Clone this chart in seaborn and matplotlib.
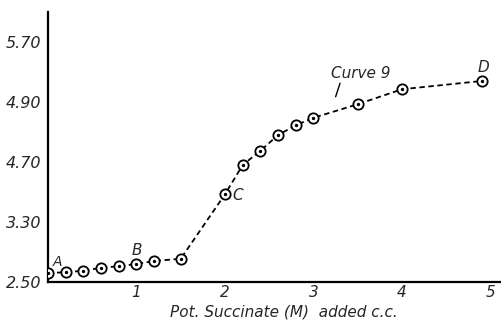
import matplotlib
matplotlib.use("Agg")
import matplotlib.pyplot as plt
import seaborn as sns
import pandas as pd

# Data
succinate_cc = [0.0, 0.2, 0.4, 0.6, 0.8, 1.0, 1.2, 1.5, 2.0, 2.2, 2.4, 2.6, 2.8, 3.0, 3.5, 4.0, 4.9]
ph_values = [2.62, 2.63, 2.65, 2.69, 2.71, 2.74, 2.78, 2.81, 3.67, 4.06, 4.25, 4.46, 4.59, 4.69, 4.87, 5.07, 5.18]
y_tick_pos = [2.5, 3.3, 4.1, 4.9, 5.7]
y_tick_labels = ["2.50", "3.30", "4.70", "4.90", "5.70"]
x_ticks = [1, 2, 3, 4, 5]
point_labels = ["A", "B", "C", "D"]

df = pd.DataFrame({"x": succinate_cc, "y": ph_values})

sns.set_style("white")
plt.rcParams["font.family"] = ["DejaVu Sans"]
plt.rcParams["font.style"] = "italic"

fig = plt.figure(figsize=(5.02, 3.22), dpi=100)
ax = fig.add_axes([48 / 502, (322 - 282) / 322, 454 / 502, 270 / 322])

sns.lineplot(data=df, x="x", y="y", ax=ax, color="black", linewidth=1.3,
             linestyle=(0, (3, 2)), zorder=2)
sns.scatterplot(data=df, x="x", y="y", ax=ax, s=55, marker="o",
                facecolor="white", edgecolor="black", linewidth=1.3, zorder=3)
ax.scatter(df["x"], df["y"], s=2, color="black", zorder=4)

ax.set_xlim(0, 5.13)
ax.set_ylim(2.5, 6.1)
ax.set_xticks(x_ticks)
ax.set_xticklabels([str(t) for t in x_ticks], fontsize=11, style="italic")
ax.set_yticks(y_tick_pos)
ax.set_yticklabels(y_tick_labels, fontsize=11.5, style="italic")
ax.tick_params(axis="x", direction="in", length=4, width=1, pad=2)
ax.tick_params(axis="y", direction="out", length=4, width=1, pad=1)

for s in ["top", "right"]:
    ax.spines[s].set_visible(False)
for s in ["left", "bottom"]:
    ax.spines[s].set_linewidth(1.6)
    ax.spines[s].set_color("black")

ax.set_xlabel("Pot. Succinate (M)  added c.c.", fontsize=11, style="italic")
ax.xaxis.set_label_coords(0.52, -0.085)
ax.set_ylabel("")

# point annotations
ax.text(succinate_cc[0] + 0.05, ph_values[0] + 0.1, point_labels[0], fontsize=10, style="italic")
ax.text(succinate_cc[5] - 0.05, ph_values[5] + 0.12, point_labels[1], fontsize=11, style="italic")
ax.text(succinate_cc[8] + 0.08, ph_values[8] - 0.08, point_labels[2], fontsize=11, style="italic")
ax.text(succinate_cc[-1] - 0.05, ph_values[-1] + 0.12, point_labels[3], fontsize=11, style="italic")

ax.text(3.2, 5.22, "Curve 9", fontsize=11, style="italic")
ax.plot([3.3, 3.25], [5.15, 4.97], color="black", linewidth=1)

fig.savefig("out.png", dpi=100)
